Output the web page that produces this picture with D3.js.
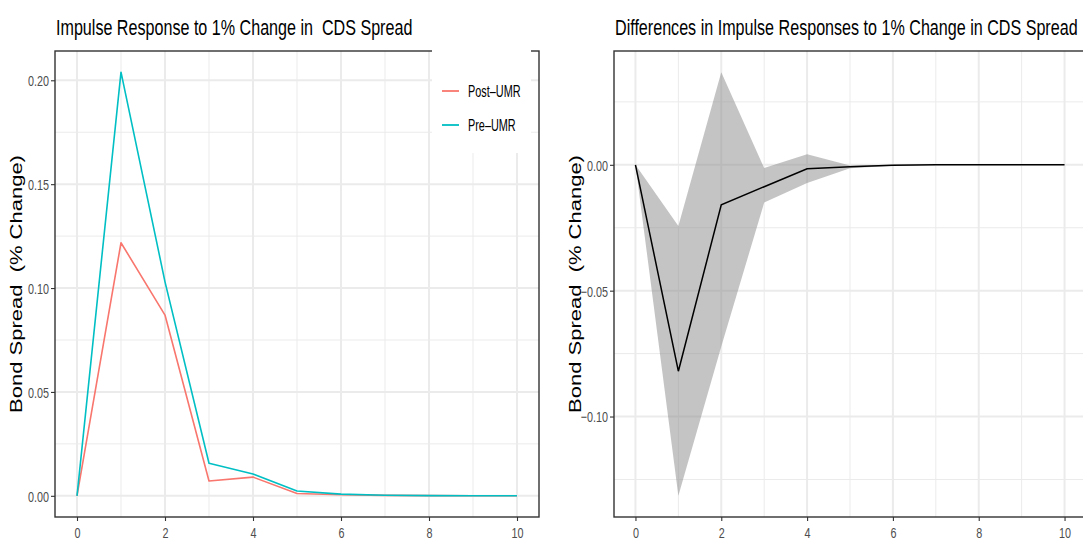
<!DOCTYPE html>
<html>
<head>
<meta charset="utf-8">
<script src="https://cdn.jsdelivr.net/npm/d3@7"></script>
<style>
  html, body { margin: 0; padding: 0; background: #fff; }
  svg { display: block; }
  text { font-family: "Liberation Sans", Arial, sans-serif; white-space: pre; }
</style>
</head>
<body>
<svg id="chart" width="1083" height="539"></svg>
<script>
// Horizon (periods after the shock)
const horizon = [0, 1, 2, 3, 4, 5, 6, 7, 8, 9, 10];

// Impulse responses of the bond spread (% change)
const postUMR = [0, 0.1218, 0.087, 0.0071, 0.009, 0.0011, 0.0005, 0.0002, 0.0001, 0, 0];
const preUMR  = [0, 0.2039, 0.103, 0.0157, 0.0105, 0.0023, 0.0008, 0.0003, 0.0001, 0.00005, 0];

// Difference in responses with its confidence band
const diffMean  = [0, -0.082, -0.0159, -0.0087, -0.0016, -0.0008, -0.0002, 0, 0, 0, 0];
const diffUpper = [0, -0.0243, 0.0368, -0.0013, 0.0042, -0.0003, 0, 0, 0, 0, 0];
const diffLower = [0, -0.1315, -0.0722, -0.015, -0.0072, -0.0014, -0.0004, 0, 0, 0, 0];

// Tick values
const xTicks = [0, 2, 4, 6, 8, 10];
const xMinor = [1, 3, 5, 7, 9];
const leftYTicks = [0, 0.05, 0.10, 0.15, 0.20];
const leftYMinor = [0.025, 0.075, 0.125, 0.175];
const rightYTicks = [-0.10, -0.05, 0.00];
const rightYMinor = [-0.125, -0.075, -0.025, 0.025];

const seriesNames = ["Post–UMR", "Pre–UMR"];
const seriesColors = ["#F8766D", "#00BFC4"];

const titles = ["Impulse Response to 1% Change in  CDS Spread",
                "Differences in Impulse Responses to 1% Change in CDS Spread"];
const yTitle = "Bond Spread  (% Change)";

const SX = 0.733;          // horizontal squeeze of the title lettering
const svg = d3.select("#chart");

function expand(lo, hi) {
  const pad = (hi - lo) * 0.05;
  return [lo - pad, hi + pad];
}

function panel(opts) {
  const { left, right, top, bottom, yDomain, yTicks, yMinor, title } = opts;
  const x = d3.scaleLinear().domain([-0.5, 10.5]).range([left, right]);
  const y = d3.scaleLinear().domain(yDomain).range([bottom, top]);
  const g = svg.append("g");

  // grid
  const grid = g.append("g");
  grid.selectAll(".vminor").data(xMinor).join("line")
    .attr("x1", d => x(d)).attr("x2", d => x(d)).attr("y1", top).attr("y2", bottom)
    .attr("stroke", "#EBEBEB").attr("stroke-width", 1);
  grid.selectAll(".hminor").data(yMinor).join("line")
    .attr("y1", d => y(d)).attr("y2", d => y(d)).attr("x1", left).attr("x2", right)
    .attr("stroke", "#EBEBEB").attr("stroke-width", 1);
  grid.selectAll(".vmajor").data(xTicks).join("line")
    .attr("x1", d => x(d)).attr("x2", d => x(d)).attr("y1", top).attr("y2", bottom)
    .attr("stroke", "#EBEBEB").attr("stroke-width", 2);
  grid.selectAll(".hmajor").data(yTicks).join("line")
    .attr("y1", d => y(d)).attr("y2", d => y(d)).attr("x1", left).attr("x2", right)
    .attr("stroke", "#EBEBEB").attr("stroke-width", 2);

  // axes
  const fmt = d3.format(".2f");
  const ax = g.append("g").attr("transform", `translate(0,${bottom})`)
    .call(d3.axisBottom(x).tickValues(xTicks).tickSize(4).tickPadding(0).tickFormat(d3.format("d")));
  const ay = g.append("g").attr("transform", `translate(${left},0)`)
    .call(d3.axisLeft(y).tickValues(yTicks).tickSize(4).tickFormat(fmt));
  [ax, ay].forEach(a => {
    a.select(".domain").remove();
    a.selectAll(".tick line").attr("stroke", "#333333").attr("stroke-width", 1.1);
    a.selectAll(".tick text").attr("fill", "#4D4D4D").attr("font-size", 15)
      .attr("font-family", "'Liberation Sans', Arial, sans-serif");
  });
  ax.selectAll(".tick text").attr("y", 0).attr("dy", 0)
    .attr("transform", `translate(0,21) scale(0.72,1)`);
  ay.selectAll(".tick text").attr("x", 0).attr("dy", "0.36em")
    .attr("text-anchor", "end").attr("transform", `translate(-6,0) scale(0.72,1)`);

  // title
  svg.append("text").attr("transform", `translate(${left + 1},35) scale(${SX},1)`)
    .attr("font-size", 22).attr("fill", "#000").text(title);

  // y-axis title
  svg.append("text")
    .attr("transform", `translate(${left - 33},${(top + bottom) / 2}) scale(0.72,1) rotate(-90)`)
    .attr("text-anchor", "middle").attr("font-size", 22).attr("fill", "#000").text(yTitle);

  return { g, x, y };
}

const panelTop = 51, panelBottom = 517;

// Left panel: impulse responses
const L = panel({
  left: 55, right: 539, top: panelTop, bottom: panelBottom,
  yDomain: expand(d3.min([...postUMR, ...preUMR]), d3.max([...postUMR, ...preUMR])),
  yTicks: leftYTicks, yMinor: leftYMinor, title: titles[0]
});
[postUMR, preUMR].forEach((vals, i) => {
  L.g.append("path")
    .datum(horizon.map((h, k) => [h, vals[k]]))
    .attr("fill", "none").attr("stroke", seriesColors[i]).attr("stroke-width", 1.6)
    .attr("stroke-linejoin", "round")
    .attr("d", d3.line().x(d => L.x(d[0])).y(d => L.y(d[1])));
});
L.g.append("rect").attr("x", 55).attr("y", panelTop).attr("width", 484).attr("height", panelBottom - panelTop)
  .attr("fill", "none").attr("stroke", "#333333").attr("stroke-width", 1.4);

// legend
const lg = svg.append("g");
lg.append("rect").attr("x", 432).attr("y", 48).attr("width", 99).attr("height", 105).attr("fill", "#fff");
seriesNames.forEach((name, i) => {
  const cy = 91 + i * 34;
  lg.append("line").attr("x1", 442).attr("x2", 459).attr("y1", cy).attr("y2", cy)
    .attr("stroke", seriesColors[i]).attr("stroke-width", 1.8);
  lg.append("text").attr("transform", `translate(468,${cy + 6}) scale(0.68,1)`)
    .attr("font-size", 16).attr("fill", "#000").text(name);
});

// Right panel: difference with band
const R = panel({
  left: 614, right: 1086, top: panelTop, bottom: panelBottom,
  yDomain: expand(d3.min(diffLower), d3.max(diffUpper)),
  yTicks: rightYTicks, yMinor: rightYMinor, title: titles[1]
});
R.g.append("path")
  .datum(horizon.map((h, k) => [h, diffLower[k], diffUpper[k]]))
  .attr("fill", "#8a8a8a").attr("fill-opacity", 0.5)
  .attr("d", d3.area().x(d => R.x(d[0])).y0(d => R.y(d[1])).y1(d => R.y(d[2])));
R.g.append("path")
  .datum(horizon.map((h, k) => [h, diffMean[k]]))
  .attr("fill", "none").attr("stroke", "#000").attr("stroke-width", 1.5)
  .attr("d", d3.line().x(d => R.x(d[0])).y(d => R.y(d[1])));
R.g.append("rect").attr("x", 614).attr("y", panelTop).attr("width", 472).attr("height", panelBottom - panelTop)
  .attr("fill", "none").attr("stroke", "#333333").attr("stroke-width", 1.4);
</script>
</body>
</html>
